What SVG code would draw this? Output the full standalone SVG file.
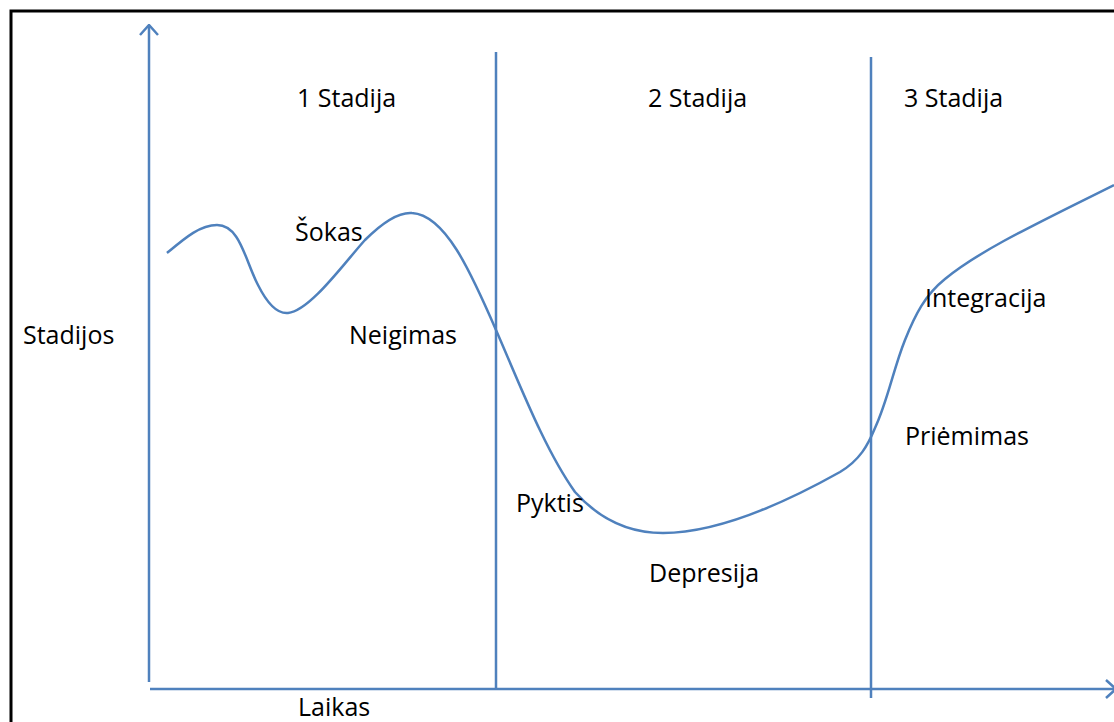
<svg xmlns="http://www.w3.org/2000/svg" width="1114" height="722" viewBox="0 0 1114 722">
  <style>
    .ax { stroke: #4f81bd; stroke-width: 2.5; fill: none; }
    .crv { stroke: #4f81bd; stroke-width: 2.5; fill: none; }
    .lbl { font-family: "Open Sans", "Liberation Sans", sans-serif; font-size: 25px; fill: #000; }
  </style>
  <defs>
    <marker id="open" viewBox="0 0 12 20" refX="11" refY="10" markerWidth="12" markerHeight="20" markerUnits="userSpaceOnUse" orient="auto">
      <path d="M1,1 L11,10 L1,19" fill="none" stroke="#4f81bd" stroke-width="2.5"/>
    </marker>
  </defs>
  <rect width="1114" height="722" fill="#fff"/>
  <!-- frame -->
  <path d="M11,722 V11 H1114" fill="none" stroke="#000" stroke-width="3"/>

  <g id="connectors">
    <!-- axes -->
    <line class="ax" x1="149" y1="682" x2="149" y2="25" marker-end="url(#open)"/>
    <line class="ax" x1="150" y1="689" x2="1116" y2="689" marker-end="url(#open)"/>
    <!-- stage dividers -->
    <line class="ax" x1="496" y1="52" x2="496" y2="690"/>
    <line class="ax" x1="871" y1="57" x2="871" y2="698"/>
    <!-- curve -->
    <path class="crv" d="M167,253 C185,238 200,225 217,225 C240,225 245,260 258,285 C268,305 278,314 288,313 C310,311 345,262 365,240 C385,220 400,212 412,213 C445,215 470,270 496,330 C520,385 545,450 575,492 C600,520 630,533 663,533 C720,533 790,500 840,472 C860,460 868,445 875,428 C888,400 893,370 905,340 C915,315 925,295 945,279 C980,250 1040,222 1114,185"/>
  </g>

  <g id="stage1"><text class="lbl" x="297" y="107">1 Stadija</text></g>
  <g id="stage2"><text class="lbl" x="648" y="107">2 Stadija</text></g>
  <g id="stage3"><text class="lbl" x="904" y="107">3 Stadija</text></g>
  <g id="sokas"><text class="lbl" x="295" y="241">Šokas</text></g>
  <g id="neigimas"><text class="lbl" x="349" y="344">Neigimas</text></g>
  <g id="yaxis-label"><text class="lbl" x="23" y="344">Stadijos</text></g>
  <g id="integracija"><text class="lbl" x="925" y="307">Integracija</text></g>
  <g id="priemimas"><text class="lbl" x="905" y="445">Priėmimas</text></g>
  <g id="pyktis"><text class="lbl" x="516" y="512">Pyktis</text></g>
  <g id="depresija"><text class="lbl" x="649" y="582">Depresija</text></g>
  <g id="xaxis-label"><text class="lbl" x="298" y="716">Laikas</text></g>
</svg>
